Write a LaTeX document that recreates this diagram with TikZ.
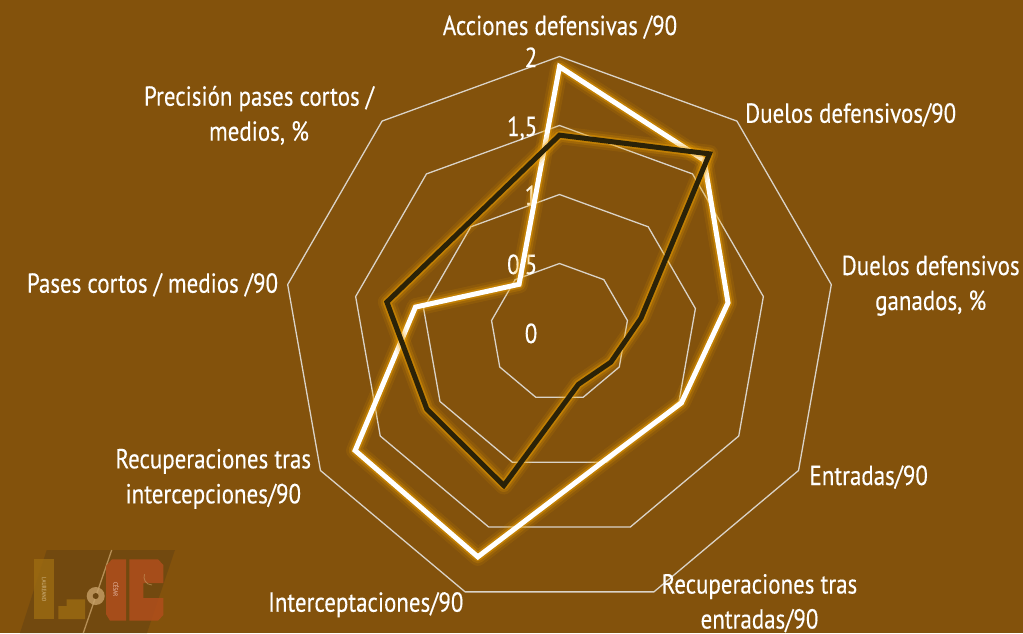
\documentclass[tikz,border=0pt]{standalone}
\usepackage{fontspec}
\setmainfont{PT Sans}[FakeStretch=0.835,FakeBold=0.3]
\definecolor{bg}{HTML}{83520C}
\definecolor{gridc}{HTML}{DAD3C8}
\definecolor{glow}{HTML}{F4A400}
\definecolor{darkser}{HTML}{2A2208}
\definecolor{logobg}{HTML}{6C4611}
\definecolor{logoL}{HTML}{9C6B12}
\definecolor{logoC}{HTML}{B04E1C}
\definecolor{logoline}{HTML}{C7A067}
\begin{document}
\begin{tikzpicture}[x=1pt,y=-1pt,
  gridline/.style={draw=gridc, line width=1.3pt},
  axlabel/.style={text=white, font=\fontsize{27.5}{35}\selectfont, inner sep=0pt, align=center},
  ticklabel/.style={text=white, font=\fontsize{27.5}{30}\selectfont, inner sep=0pt, anchor=base east},
  glowA/.style={draw=glow, line width=18pt, opacity=0.10, line join=round},
  glowB/.style={draw=glow, line width=13pt, opacity=0.18, line join=round},
  glowC/.style={draw=glow, line width=8.5pt, opacity=0.4, line join=round},
  whiteser/.style={draw=white, line width=5pt, line join=miter},
  darkline/.style={draw=darkser, line width=5pt, line join=miter}]
\def\cx{559.5}\def\cy{332.5}\def\sc{138}
\fill[bg] (0,0) rectangle (1023,633);
\useasboundingbox (0,0) rectangle (1023,633);
% logo watermark
\fill[logobg, opacity=0.7] (46.7,550) -- (175,550) -- (147,633) -- (20,633) -- cycle;
\fill[logoL, opacity=0.8] (34,559.3) rectangle (54,619);
\node[rotate=-90, text=logoL!70!white, font=\fontsize{6}{6}\selectfont, inner sep=0pt] (lau) at (44,589) {LAUREANO};
\fill[logoL, opacity=0.8] (58.3,606) rectangle (85,619) (66.7,599.3) rectangle (85,606.5);
\draw[logoline, line width=1.3pt, opacity=0.8] (111.7,550) -- (83.3,633);
\fill[logoline, opacity=0.8] (95.7,596) circle (9);
\fill[logobg] (95.7,596) circle (3);
\fill[logoC, opacity=0.85] (112,559.3) -- (126,559.3) -- (126,620.7) -- (110,620.7) -- (106,614) -- (106,566) -- cycle;
\node[rotate=-90, text=logoC!60!white, font=\fontsize{6}{6}\selectfont, inner sep=0pt] (ces) at (116,589) {CÉSAR};
\fill[logoC, opacity=0.85] (129.3,559.3) -- (158,559.3) -- (163.3,565) -- (163.3,583) -- (143.3,583) -- (143.3,598) -- (163.3,598) -- (163.3,615) -- (158,620.7) -- (129.3,620.7) -- cycle;
\draw[logoline, line width=0.8pt, opacity=0.6] (152,585) arc (90:200:8);
% grid rings
\foreach \v in {0.5,1,1.5,2}{
  \pgfmathsetmacro\rr{\v*\sc}
  \draw[gridline] ({\cx},{\cy-\rr}) \foreach \k in {1,...,8}{ -- ({\cx+\rr*cos(90-40*\k)},{\cy-\rr*sin(90-40*\k)}) } -- cycle;
}
% tick labels
\node[ticklabel] (t0) at (537.5,{\cy+10.5}) {0};
\node[ticklabel] (t1) at (537.5,{\cy-0.5*\sc+10.5}) {0,5};
\node[ticklabel] (t2) at (537.5,{\cy-1*\sc+10.5}) {1};
\node[ticklabel] (t3) at (537.5,{\cy-1.5*\sc+10.5}) {1,5};
\node[ticklabel] (t4) at (537.5,{\cy-2*\sc+10.5}) {2};
% data points
\foreach \v [count=\k from 0] in {1.926,1.63,1.24,1.02,0.98,1.73,1.71,1.06,0.456}{
  \coordinate (w\k) at ({\cx+\v*\sc*cos(90-40*\k)},{\cy-\v*\sc*sin(90-40*\k)});
}
\foreach \v [count=\k from 0] in {1.43,1.69,0.60,0.43,0.40,1.18,1.11,1.27,1.03}{
  \coordinate (d\k) at ({\cx+\v*\sc*cos(90-40*\k)},{\cy-\v*\sc*sin(90-40*\k)});
}
\foreach \st in {glowA,glowB,glowC}{
  \draw[\st] (w0) -- (w1) -- (w2) -- (w3) -- (w4) -- (w5) -- (w6) -- (w7) -- (w8) -- cycle;
}
\draw[whiteser] (w0) -- (w1) -- (w2) -- (w3) -- (w4) -- (w5) -- (w6) -- (w7) -- (w8) -- cycle;
\foreach \st in {glowA,glowB,glowC}{
  \draw[\st] (d0) -- (d1) -- (d2) -- (d3) -- (d4) -- (d5) -- (d6) -- (d7) -- (d8) -- cycle;
}
\draw[darkline] (d0) -- (d1) -- (d2) -- (d3) -- (d4) -- (d5) -- (d6) -- (d7) -- (d8) -- cycle;
% axis labels (base anchor = baseline of last line)
\node[axlabel, anchor=base] (l0) at (560,35) {Acciones defensivas /90};
\node[axlabel, anchor=base west] (l1) at (745,122.7) {Duelos defensivos/90};
\node[axlabel, anchor=base] (l2) at (930.7,310) {Duelos defensivos\\ganados, \%};
\node[axlabel, anchor=base west] (l3) at (809.3,485) {Entradas/90};
\node[axlabel, anchor=base] (l4) at (759.5,628.5) {Recuperaciones tras\\entradas/90};
\node[axlabel, anchor=base] (l5) at (365.8,611.7) {Interceptaciones/90};
\node[axlabel, anchor=base] (l6) at (213.3,503.3) {Recuperaciones tras\\intercepciones/90};
\node[axlabel, anchor=base east] (l7) at (278.3,292.7) {Pases cortos / medios /90};
\node[axlabel, anchor=base] (l8) at (259,140.7) {Precisión pases cortos /\\medios, \%};
\end{tikzpicture}
\end{document}
